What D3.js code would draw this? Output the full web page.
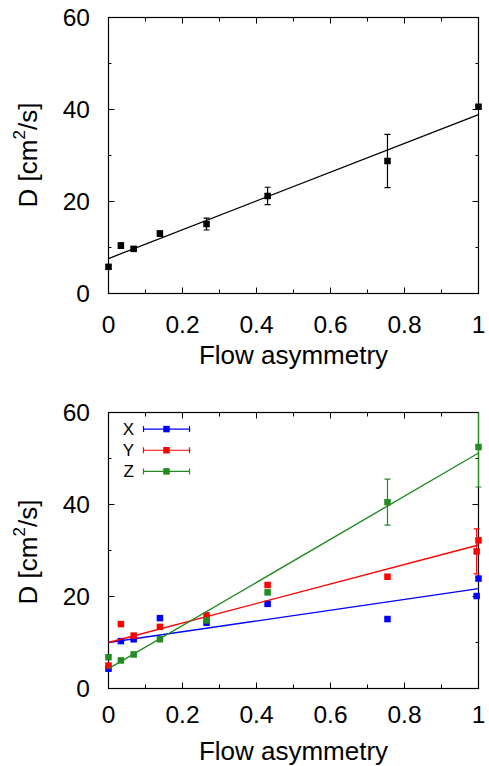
<!DOCTYPE html>
<html>
<head>
<meta charset="utf-8">
<script src="https://cdn.jsdelivr.net/npm/d3@7"></script>
<style>
  body { margin: 0; background: #fff; }
  text { font-family: "Liberation Sans", Arial, sans-serif; fill: #000; }
</style>
</head>
<body>
<div id="chart"></div>
<script>
const width = 489;
const height = 766;

// top panel: combined D
const xTop = [0, 0.0335, 0.068, 0.139, 0.265, 0.43, 0.754, 1];
const dTop = [5.8, 10.4, 9.7, 13.0, 15.1, 21.2, 28.8, 40.6];
const eTop = [0.4, 0.6, 0.4, 0.6, 1.3, 1.9, 5.8, 0.3];
const fitTop = [7.6, 31.3]; // intercept, slope

// bottom panel: per direction
const xBot = [0, 0.0335, 0.068, 0.139, 0.265, 0.43, 0.754, 0.995, 1];
const dX = [4.3, 10.3, 10.7, 15.3, 14.3, 18.4, 15.1, 20.1, 23.9];
const eX = [0, 0, 0, 0, 0, 0, 0, 0, 0];
const dY = [5.0, 14.0, 11.5, 13.4, 15.9, 22.5, 24.3, 29.8, 32.2];
const eY = [0, 0, 0, 0, 0, 0, 0, 4.9, 0];
const xZ = [0, 0.0335, 0.068, 0.139, 0.265, 0.43, 0.754, 1];
const dZ = [6.8, 6.1, 7.4, 10.7, 14.8, 20.9, 40.5, 52.5];
const eZ = [0, 0, 0, 0, 0, 0, 5.0, 8.7];
const fitX = [10.0, 11.7];
const fitY = [10.0, 21.2];
const fitZ = [4.3, 46.9];

const seriesNames = ["X", "Y", "Z"];
const seriesColors = ["#0000ff", "#ff0000", "#228b22"];

const xTicks = [0, 0.2, 0.4, 0.6, 0.8, 1];
const yTicks = [0, 20, 40, 60];

const svg = d3.select("#chart").append("svg")
  .attr("width", width)
  .attr("height", height);

function panel(top, tickY, titleY, titleMid) {
  const x = d3.scaleLinear().domain([0, 1]).range([108.5, 478.5]);
  const y = d3.scaleLinear().domain([0, 60]).range([top + 276, top]);
  const g = svg.append("g");

  // inward ticks on all four sides
  const minorX = d3.range(0, 1.0001, 0.1);
  const minorY = d3.range(0, 60.001, 10);
  minorX.forEach(v => {
    const major = Math.abs(v * 5 - Math.round(v * 5)) < 1e-6;
    const len = major ? 6 : 4;
    g.append("line").attr("x1", x(v)).attr("x2", x(v)).attr("y1", y(0)).attr("y2", y(0) - len).attr("stroke", "#000");
    g.append("line").attr("x1", x(v)).attr("x2", x(v)).attr("y1", y(60)).attr("y2", y(60) + len).attr("stroke", "#000");
  });
  minorY.forEach(v => {
    const len = v % 20 === 0 ? 6 : 3;
    g.append("line").attr("x1", x(0)).attr("x2", x(0) + len).attr("y1", y(v)).attr("y2", y(v)).attr("stroke", "#000");
    g.append("line").attr("x1", x(1)).attr("x2", x(1) - len).attr("y1", y(v)).attr("y2", y(v)).attr("stroke", "#000");
  });

  g.append("rect")
    .attr("x", x(0)).attr("y", y(60))
    .attr("width", x(1) - x(0)).attr("height", y(0) - y(60))
    .attr("fill", "none").attr("stroke", "#000").attr("stroke-width", 1.2);

  g.selectAll(".xt").data(xTicks).join("text")
    .attr("x", d => x(d)).attr("y", tickY)
    .attr("text-anchor", "middle").attr("font-size", 24.5)
    .text(d => d3.format("~g")(d));

  g.selectAll(".yt").data(yTicks).join("text")
    .attr("x", 90).attr("y", d => y(d) + 8.5)
    .attr("text-anchor", "end").attr("font-size", 24.5)
    .text(d => d);

  g.append("text")
    .attr("x", (x(0) + x(1)) / 2).attr("y", titleY)
    .attr("text-anchor", "middle").attr("font-size", 26)
    .text("Flow asymmetry");

  const yt = g.append("text")
    .attr("transform", `translate(37,${titleMid}) rotate(-90)`)
    .attr("text-anchor", "middle").attr("font-size", 26);
  yt.append("tspan").text("D [cm");
  yt.append("tspan").attr("dy", -12).attr("font-size", 17).text("2");
  yt.append("tspan").attr("dy", 12).text("/s]");

  const clipId = "clip" + top;
  svg.append("clipPath").attr("id", clipId).append("rect")
    .attr("x", x(0) - 5).attr("y", y(60)).attr("width", x(1) - x(0) + 10).attr("height", y(0) - y(60));

  return { x, y, g: svg.append("g").attr("clip-path", `url(#${clipId})`) };
}

function drawSeries(p, xs, ds, es, fit, color, size, lw) {
  const { x, y, g } = p;
  g.append("line")
    .attr("x1", x(0)).attr("y1", y(fit[0]))
    .attr("x2", x(1)).attr("y2", y(fit[0] + fit[1]))
    .attr("stroke", color).attr("stroke-width", lw);

  const pts = xs.map((v, i) => ({ x: v, d: ds[i], e: es[i] }));
  const bars = pts.filter(p => p.e > 0);
  g.selectAll(null).data(bars).join("line")
    .attr("x1", d => x(d.x)).attr("x2", d => x(d.x))
    .attr("y1", d => y(d.d - d.e)).attr("y2", d => y(d.d + d.e))
    .attr("stroke", color).attr("stroke-width", 1.2);
  [-1, 1].forEach(s => {
    g.selectAll(null).data(bars).join("line")
      .attr("x1", d => x(d.x) - 3).attr("x2", d => x(d.x) + 3)
      .attr("y1", d => y(d.d + s * d.e)).attr("y2", d => y(d.d + s * d.e))
      .attr("stroke", color).attr("stroke-width", 1.2);
  });

  g.selectAll(null).data(pts).join("rect")
    .attr("x", d => x(d.x) - size / 2).attr("y", d => y(d.d) - size / 2)
    .attr("width", size).attr("height", size)
    .attr("fill", color);
}

const p1 = panel(17.5, 333, 364, 155);
drawSeries(p1, xTop, dTop, eTop, fitTop, "#000", 6.5, 1.3);

const p2 = panel(412.5, 723, 760, 552);
drawSeries(p2, xBot, dX, eX, fitX, seriesColors[0], 6.5, 1.4);
drawSeries(p2, xBot, dY, eY, fitY, seriesColors[1], 6.5, 1.4);
drawSeries(p2, xZ, dZ, eZ, fitZ, seriesColors[2], 6.5, 1.4);

// legend
const legY = d3.scaleBand().domain(seriesNames).range([418.5, 482]);
const leg = svg.append("g");
seriesNames.forEach((name, i) => {
  const cy = legY(name) + legY.bandwidth() / 2;
  leg.append("text").attr("x", 134).attr("y", cy + 6)
    .attr("text-anchor", "end").attr("font-size", 17).text(name);
  leg.append("line").attr("x1", 143.5).attr("x2", 189.5).attr("y1", cy).attr("y2", cy)
    .attr("stroke", seriesColors[i]).attr("stroke-width", 1.2);
  [143.5, 189.5].forEach(ex => {
    leg.append("line").attr("x1", ex).attr("x2", ex).attr("y1", cy - 3).attr("y2", cy + 3)
      .attr("stroke", seriesColors[i]).attr("stroke-width", 1.2);
  });
  leg.append("rect").attr("x", 166.5 - 3.25).attr("y", cy - 3.25)
    .attr("width", 6.5).attr("height", 6.5).attr("fill", seriesColors[i]);
});
</script>
</body>
</html>
